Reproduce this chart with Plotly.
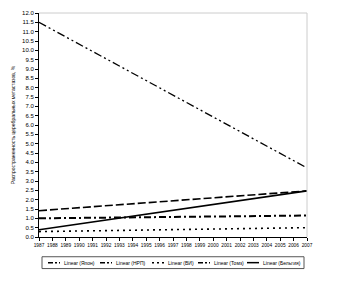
import plotly.graph_objects as go

years = [1987, 2007]
names = ["Linear (Япон)", "Linear (НРП)", "Linear (ВИ)", "Linear (Томз)", "Linear (Бельгия)"]
s_japan = [1.41, 2.47]
s_nrp = [11.5, 3.7]
s_vi = [0.29, 0.5]
s_tomsk = [1.0, 1.15]
s_belg = [0.39, 2.47]

series = [s_japan, s_nrp, s_vi, s_tomsk, s_belg]
dashes = ["8px,3px,8px,3px", "8px,3px,2px,3px,2px,3px", "2px,4px", "7px,3px,2px,3px", "solid"]
widths = [1.6, 1.3, 1.6, 2.0, 1.6]
leg_dashes = ["5px,2px,2px,2px", "5px,2px,2px,2px", "2px,3px", "5px,2px,2px,2px", "solid"]

PW, PH = 268.0, 227.0  # plot area size in px
fig = go.Figure()
for nm, ys, d, w in zip(names, series, dashes, widths):
    fig.add_trace(go.Scatter(x=years, y=ys, mode="lines", name=nm, showlegend=False,
                             line=dict(color="black", width=w, dash=d)))

# custom compact legend
shapes = [
    dict(type="line", xref="paper", yref="paper", x0=0, x1=1, y0=1, y1=1,
         line=dict(color="#cccccc", width=1)),
    dict(type="line", xref="paper", yref="paper", x0=1, x1=1, y0=0, y1=1,
         line=dict(color="#cccccc", width=1)),
    dict(type="rect", xref="paper", yref="paper", x0=3 / PW, x1=265 / PW,
         y0=-32 / PH, y1=-20 / PH, line=dict(color="#555555", width=1)),
]
annotations = []
starts = [9, 61, 113, 159, 208]
ly = -26 / PH
for nm, sx, ld in zip(names, starts, leg_dashes):
    shapes.append(dict(type="line", xref="paper", yref="paper", x0=sx / PW, x1=(sx + 12) / PW,
                       y0=ly, y1=ly, line=dict(color="black", width=1.5, dash=ld)))
    annotations.append(dict(text=nm, xref="paper", yref="paper", x=(sx + 14) / PW, y=ly,
                            xanchor="left", yanchor="middle", showarrow=False,
                            font=dict(size=5)))

tick_years = list(range(1987, 2008))
fig.update_layout(
    width=350, height=297,
    margin=dict(l=39, r=43, t=10, b=60),
    paper_bgcolor="white", plot_bgcolor="white",
    font=dict(family="Liberation Sans", size=6, color="black"),
    showlegend=False,
    xaxis=dict(range=[1987, 2007], tickvals=tick_years, ticktext=[str(y) for y in tick_years],
               showgrid=False, zeroline=False, showline=True, linecolor="black", linewidth=1,
               ticks="outside", ticklen=3, tickcolor="black", tickangle=0,
               tickfont=dict(size=4.8, family="Liberation Sans")),
    yaxis=dict(range=[0, 12], dtick=0.5, tickformat=".1f", showgrid=False, zeroline=False,
               showline=True, linecolor="black", linewidth=1, ticks="outside", ticklen=3,
               tickcolor="black", tickfont=dict(size=6),
               title=dict(text="Распространенность церебральных метастазов, %",
                          font=dict(size=5), standoff=6)),
    shapes=shapes,
    annotations=annotations,
)
fig.write_html("out.html")
